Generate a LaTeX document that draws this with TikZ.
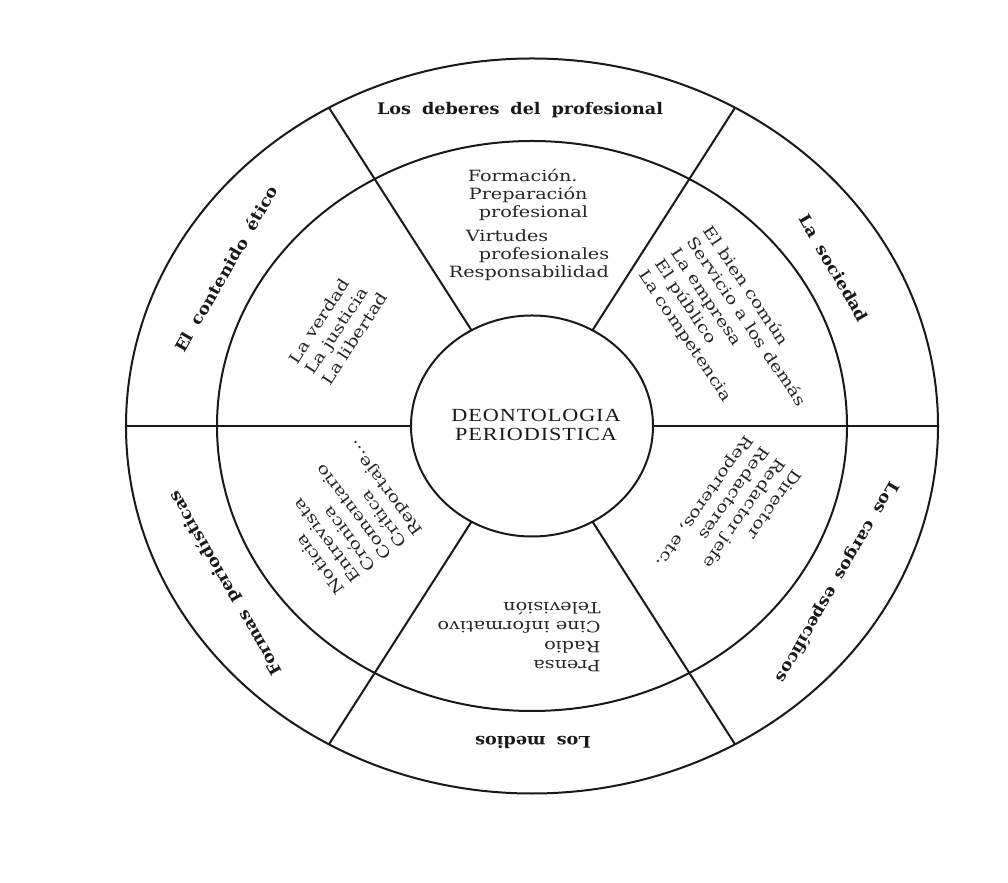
\documentclass[tikz,border=0pt]{standalone}
\usepackage{fontspec}
\newfontfamily\innerfont[FakeStretch=1.24]{DejaVu Serif}
\newfontfamily\labelfont[FakeStretch=1.1,WordSpace=1.8]{DejaVu Serif}
\newfontfamily\corefont[FakeStretch=1.2,LetterSpace=5]{Liberation Serif}
\begin{document}
\begin{tikzpicture}[x=1bp,y=1bp,
  ring/.style={line width=2bp, draw=black!90},
  outerlabel/.style={font=\labelfont\bfseries\fontsize{16bp}{18bp}\selectfont, text=black!90, inner sep=0pt},
  innerblock/.style={font=\innerfont\fontsize{15.5bp}{19.5bp}\selectfont, text=black!85, align=left, inner sep=0pt},
  corelabel/.style={font=\corefont\fontsize{18.5bp}{18.5bp}\selectfont, text=black!90, align=center, inner sep=0pt}]
\useasboundingbox (0,0) rectangle (1008,883);
\fill[white] (0,0) rectangle (1008,883);
% rings
\draw[ring] (532,457) ellipse [x radius=406bp, y radius=367.5bp];
\draw[ring] (532,457) ellipse [x radius=315bp, y radius=285bp];
\draw[ring] (532,457) ellipse [x radius=121bp, y radius=110.5bp];
% spokes
\foreach \a in {0,60,120,180,240,300}{
  \coordinate (in\a) at ({532+121*cos(\a)},{457+110.5*sin(\a)});
  \coordinate (out\a) at ({532+406*cos(\a)},{457+367.5*sin(\a)});
  \draw[ring] (in\a) -- (out\a);
}
% centre
\node[corelabel] (core) at (536,458) {DEONTOLOGIA\\PERIODISTICA};
% outer ring labels
\node[outerlabel] (deberes) at (520,773) {Los deberes del profesional};
\node[outerlabel, rotate=-60] (sociedad) at (834,615) {La sociedad};
\node[outerlabel, rotate=60] (contenido) at (226,614) {El contenido ético};
\node[outerlabel, rotate=120] (formas) at (226,300) {Formas periodísticas};
\node[outerlabel, rotate=180] (medios) at (533,141) {Los medios};
\node[outerlabel, rotate=240] (cargos) at (837,301) {Los cargos específicos};
% inner ring blocks
\node[innerblock] (deberesin) at (529,658) {%
  \hspace*{19bp}Formación.\\[-1.5bp]
  \hspace*{20bp}Preparación\\[-1.5bp]
  \hspace*{30bp}profesional\\[4bp]
  \hspace*{17bp}Virtudes\\[-1.5bp]
  \hspace*{30bp}profesionales\\[-1.5bp]
  Responsabilidad};
\node[innerblock, rotate=-56] (sociedadin) at (730,550) {El bien común\\Servicio a los demás\\La empresa\\El público\\La competencia};
\node[innerblock, rotate=57] (contenidoin) at (338,555) {La verdad\\La justicia\\La libertad};
\node[innerblock, rotate=127] (formasin) at (347,366) {Noticia\\Entrevista\\Crónica\\Comentario\\Crítica\\Reportaje...};
\node[innerblock, rotate=180] (mediosin) at (519,246) {Prensa\\Radio\\Cine informativo\\Televisión};
\node[innerblock, rotate=235] (cargosin) at (728,365) {Director\\Redactor jefe\\Redactores\\Reporteros, etc.};
\end{tikzpicture}
\end{document}
